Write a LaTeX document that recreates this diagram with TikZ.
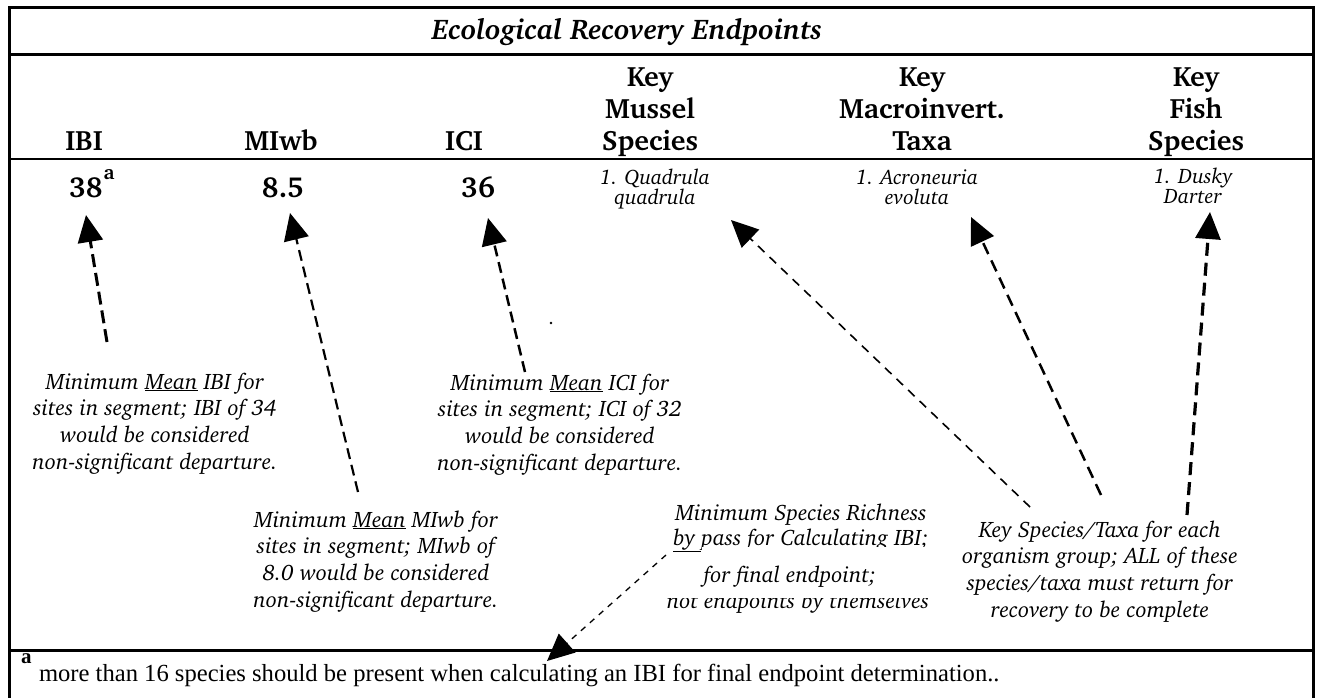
\documentclass[tikz,border=0pt]{standalone}
\usepackage[T1]{fontenc}
\usepackage{fontspec}
\setmainfont{Liberation Serif}
\usetikzlibrary{arrows.meta}
\newcommand\chr{\fontencoding{T1}\fontfamily{bch}\selectfont}
\newcommand\tstrut[1]{\rule{0pt}{#1pt}}
\tikzset{
  every node/.style={inner sep=0pt, outer sep=0pt},
  hdr/.style={font=\chr\bfseries\fontsize{28}{32}\selectfont, align=center, anchor=north},
  ttl/.style={font=\chr\bfseries\itshape\fontsize{28.5}{30}\selectfont, anchor=base},
  val/.style={font=\chr\bfseries\fontsize{29}{30}\selectfont, anchor=base},
  spc/.style={font=\chr\itshape\fontsize{21}{20}\selectfont, align=center, anchor=north},
  note/.style={font=\chr\itshape\fontsize{22.4}{26.7}\selectfont, align=center, anchor=north},
  noteline/.style={font=\chr\itshape\fontsize{22.4}{26.7}\selectfont, anchor=base},
  foot/.style={font=\fontsize{24.6}{28}\selectfont, anchor=base west},
  pointer/.style={-{Triangle[length=27pt,width=25pt]}},
  rulebar/.style={line width=2.6pt},
}
\begin{document}
\begin{tikzpicture}[x=1pt,y=-1pt]
\useasboundingbox (0,0) rectangle (1317,698);
\fill[white] (0,0) rectangle (1317,698);
% frame and rules
\draw[line width=3pt] (9.5,698) -- (9.5,8) -- (1313.5,8) -- (1313.5,698);
\draw[rulebar] (9.5,54.5) -- (1313.5,54.5);
\draw[line width=2.8pt] (9.5,159) -- (1313.5,159);
\draw[line width=3pt] (9.5,650) -- (1313.5,650);
% title and headers
\node[ttl] (title) at (627,40) {Ecological Recovery Endpoints};
\node[hdr] (hIBI) at (84,126) {\tstrut{24}IBI};
\node[hdr] (hMIwb) at (281,126) {\tstrut{24}MIwb};
\node[hdr] (hICI) at (464,126) {\tstrut{24}ICI};
\node[hdr] (hMus) at (650,62) {\tstrut{24}Key\\Mussel\\Species};
\node[hdr] (hMac) at (922,62) {\tstrut{24}Key\\Macroinvert.\\Taxa};
\node[hdr] (hFish) at (1196,62) {\tstrut{24}Key\\Fish\\Species};
% values
\node[val, anchor=base west] (vIBI) at (69,197) {38\hspace{1pt}\raisebox{18pt}{\fontsize{20}{20}\selectfont a}};
\node[val] (vMIwb) at (283,197) {8.5};
\node[val] (vICI) at (478,197) {36};
\node[spc] (sMus) at (655,168) {\tstrut{16}1. Quadrula\\quadrula};
\node[spc] (sMac) at (917,168) {\tstrut{16}1. Acroneuria\\evoluta};
\node[spc] (sFish) at (1193,167) {\tstrut{16}1. Dusky\\Darter};
% notes
\node[note] (nIBI) at (155,370) {\tstrut{19}Minimum \underline{Mean} IBI for\\sites in segment; IBI of 34\\would be considered\\non-significant departure.};
\node[note] (nMIwb) at (376,508) {\tstrut{19}Minimum \underline{Mean} MIwb for\\sites in segment; MIwb of\\8.0 would be considered\\non-significant departure.};
\node[note] (nICI) at (560,371) {\tstrut{19}Minimum \underline{Mean} ICI for\\sites in segment; ICI of 32\\would be considered\\non-significant departure.};
\node[note] (nKey) at (1100,518) {\tstrut{19}Key Species/Taxa for each\\organism group; ALL of these\\species/taxa must return for\\recovery to be complete};
% species richness note (overlapping boxes)
\node[noteline] (r2) at (801,545) {\underline{by\ }pass for Calculating IBI;};
\node[noteline] (r4) at (798,608) {not endpoints by themselves};
\fill[white] (702,546.5) rectangle (940,556);
\fill[white] (655,586) rectangle (940,597.5);
\node[noteline] (r1) at (801,520) {Minimum Species Richness};
\node[noteline] (r3) at (790,582) {for final endpoint;};
% footnote
\node[foot] (fa) at (21,663) {\bfseries\fontsize{21}{21}\selectfont a};
\node[foot] (ftext) at (39,681) {more than 16 species should be present when calculating an IBI for final endpoint determination..};
% stray dot
\fill (551,323) circle (1.4);
% connector ends
\coordinate (aIBIs) at (107,342);  \coordinate (aIBIt) at (86,215);
\coordinate (aMIs) at (358,492);   \coordinate (aMIt) at (290,213);
\coordinate (aICs) at (525,372);   \coordinate (aICt) at (488,218);
\coordinate (aMuss) at (1030,507); \coordinate (aMust) at (731,220);
\coordinate (aMacs) at (1101,495); \coordinate (aMact) at (971,217);
\coordinate (aFiss) at (1187,515); \coordinate (aFist) at (1210,212);
\coordinate (aRics) at (666,555);  \coordinate (aRict) at (547,661);
% connectors
\draw[pointer, line width=3pt, dash pattern=on 13pt off 6pt] (aIBIs) -- (aIBIt);
\draw[pointer, line width=2.2pt, dash pattern=on 11pt off 6pt] (aMIs) -- (aMIt);
\draw[pointer, line width=2.5pt, dash pattern=on 11pt off 6pt] (aICs) -- (aICt);
\draw[pointer, line width=1.6pt, dash pattern=on 9pt off 7pt] (aMuss) -- (aMust);
\draw[pointer, line width=2.5pt, dash pattern=on 12pt off 7pt] (aMacs) -- (aMact);
\draw[pointer, line width=3.2pt, dash pattern=on 13pt off 7pt] (aFiss) -- (aFist);
\draw[pointer, line width=1.3pt, dash pattern=on 6pt off 6pt] (aRics) -- (aRict);
\end{tikzpicture}
\end{document}
